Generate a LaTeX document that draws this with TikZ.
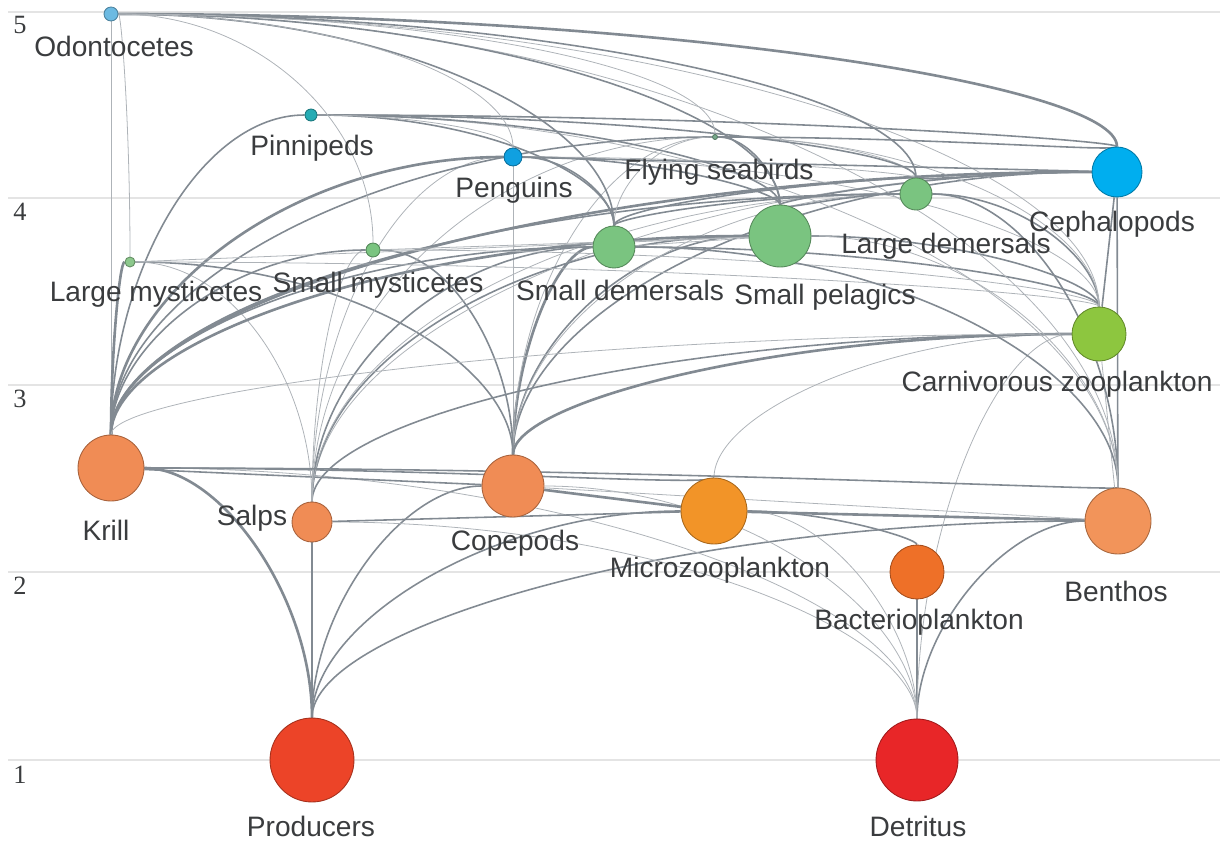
\documentclass[tikz,border=0pt]{standalone}
\usepackage{fontspec}
\setmainfont{Liberation Sans}
\newfontfamily\axisfont{Liberation Serif}
\usetikzlibrary{calc,backgrounds}

\definecolor{txtgray}{RGB}{58,60,62}
\definecolor{gridgray}{RGB}{228,228,228}
\definecolor{linkgray}{RGB}{130,138,146}
\definecolor{odoc}{RGB}{108,186,226}
\definecolor{pinnc}{RGB}{38,172,180}
\definecolor{pengc}{RGB}{16,160,224}
\definecolor{flyc}{RGB}{120,170,140}
\definecolor{cephc}{RGB}{0,174,239}
\definecolor{fishc}{RGB}{122,196,128}
\definecolor{lmysc}{RGB}{140,200,140}
\definecolor{czooc}{RGB}{141,198,63}
\definecolor{krillc}{RGB}{240,140,85}
\definecolor{microc}{RGB}{242,148,40}
\definecolor{bactc}{RGB}{238,112,40}
\definecolor{benthc}{RGB}{242,148,90}
\definecolor{prodc}{RGB}{236,68,40}
\definecolor{detrc}{RGB}{232,38,40}

% quarter ellipse from the lower node (#2) to the upper node (#3)
\newcommand{\web}[3][link]{%
  \draw[#1] (#2) .. controls ($(#2)!0.552!(#2|-#3)$) and ($(#3)!0.552!(#2|-#3)$) .. (#3);}

\begin{document}
\begin{tikzpicture}[
    x=0.02cm, y=-0.02cm,
    sp/.style={circle, draw=#1!70!black, fill=#1, line width=0.5pt, inner sep=0pt},
    rad/.style={minimum size=#1*0.04cm},
    lbl/.style={text=txtgray, font=\fontsize{16}{18}\selectfont, inner sep=0pt},
    axis/.style={text=txtgray, font=\axisfont\fontsize{15}{18}\selectfont, inner sep=0pt},
    grid line/.style={draw=gridgray, line width=0.04cm},
    thin link/.style={draw=linkgray!65, line width=0.45pt},
    link/.style={draw=linkgray, line width=0.9pt},
    thick link/.style={draw=linkgray, line width=1.5pt}
  ]
  \useasboundingbox (0,0) rectangle (1220,841);

  \node (odo) at (111,14) [sp=odoc,rad=7]{};
  \node (pinn) at (311,115) [sp=pinnc,rad=6]{};
  \node (peng) at (513,157) [sp=pengc,rad=9]{};
  \node (fly) at (715,137) [sp=flyc,rad=2.5]{};
  \node (ceph) at (1117,172) [sp=cephc,rad=25]{};
  \node (ldem) at (916,194) [sp=fishc,rad=16]{};
  \node (sdem) at (614,247) [sp=fishc,rad=21]{};
  \node (spel) at (780,236) [sp=fishc,rad=31]{};
  \node (smys) at (373,250) [sp=fishc,rad=7]{};
  \node (lmys) at (130,262) [sp=lmysc,rad=5]{};
  \node (czoo) at (1099,334) [sp=czooc,rad=27]{};
  \node (krill) at (111,468) [sp=krillc,rad=33]{};
  \node (salps) at (312,522) [sp=krillc,rad=20]{};
  \node (cope) at (513,486) [sp=krillc,rad=31]{};
  \node (micro) at (714,511) [sp=microc,rad=33]{};
  \node (bact) at (917,572) [sp=bactc,rad=27]{};
  \node (benth) at (1118,521) [sp=benthc,rad=33]{};
  \node (prod) at (312,760) [sp=prodc,rad=42]{};
  \node (detr) at (917,760) [sp=detrc,rad=41]{};

  \node (odotxt) at (114,46) [lbl]{Odontocetes};
  \node (pinntxt) at (312,148) [lbl]{Pinnipeds};
  \node (pengtxt) at (514,190) [lbl]{Penguins};
  \node (flytxt) at (719,172) [lbl]{Flying seabirds};
  \node (cephtxt) at (1112,224) [lbl]{Cephalopods};
  \node (ldemtxt) at (946,246) [lbl]{Large demersals};
  \node (sdemtxt) at (620,290) [lbl]{Small demersals};
  \node (speltxt) at (825,297) [lbl]{Small pelagics};
  \node (smystxt) at (378,285) [lbl]{Small mysticetes};
  \node (lmystxt) at (156,294) [lbl]{Large mysticetes};
  \node (czootxt) at (1057,384) [lbl]{Carnivorous zooplankton};
  \node (krilltxt) at (106,530) [lbl]{Krill};
  \node (salpstxt) at (252,518) [lbl]{Salps};
  \node (copetxt) at (515,543) [lbl]{Copepods};
  \node (microtxt) at (720,570) [lbl]{Microzooplankton};
  \node (bacttxt) at (919,622) [lbl]{Bacterioplankton};
  \node (benthtxt) at (1116,591) [lbl]{Benthos};
  \node (prodtxt) at (311,826) [lbl]{Producers};
  \node (detrtxt) at (918,826) [lbl]{Detritus};

  \node (lv5) at (20,25) [axis]{5};
  \node (lv4) at (20,212) [axis]{4};
  \node (lv3) at (20,399) [axis]{3};
  \node (lv2) at (20,586) [axis]{2};
  \node (lv1) at (20,775) [axis]{1};

  \begin{scope}[on background layer]
    \foreach \y in {12,198,385,572,760}
      \draw[grid line] (8,\y) -- (1220,\y);

    \web[thick link]{prod}{krill}
    \draw[thick link] (prod) -- (salps);
    \web{prod}{cope}
    \web{prod}{micro}
    \web{prod}{benth}

    \draw[thick link] (detr) -- (bact);
    \web{detr}{benth}
    \web[thin link]{detr}{micro}
    \web[thin link]{detr}{cope}
    \web[thin link]{detr}{salps}
    \web[thin link]{detr}{krill}
    \web[thin link]{detr}{czoo}

    \web{bact}{micro}

    \draw[thick link] (micro) -- (cope);
    \draw[link] (salps) -- (micro);
    \draw[thick link] (micro) -- (benth);
    \web{micro}{krill}
    \web[thin link]{micro}{czoo}

    \draw[link] (krill) -- (cope);
    \draw[thin link] (cope) -- (benth);
    \draw[thin link] (cope) -- (peng);
    \web[thick link]{cope}{czoo}
    \web{cope}{ceph}
    \web{cope}{spel}
    \web[thick link]{cope}{sdem}
    \web[thin link]{cope}{ldem}
    \web[thin link]{cope}{fly}
    \web{cope}{smys}
    \web{cope}{lmys}

    \web{salps}{czoo}
    \web[thin link]{salps}{ceph}
    \web{salps}{spel}
    \web{salps}{sdem}
    \web[thin link]{salps}{ldem}
    \web[thin link]{salps}{lmys}
    \web[thin link]{salps}{smys}
    \web[thin link]{salps}{fly}
    \web[thin link]{salps}{peng}

    \draw[thin link] (krill) -- (odo);
    \web[thick link]{krill}{lmys}
    \web{krill}{smys}
    \web{krill}{pinn}
    \web[thick link]{krill}{peng}
    \web{krill}{fly}
    \web{krill}{sdem}
    \web[thick link]{krill}{spel}
    \web{krill}{ldem}
    \web[thick link]{krill}{ceph}
    \web[thin link]{krill}{czoo}
    \web{benth}{krill}

    \draw[link] (czoo) -- (ceph);
    \web{czoo}{spel}
    \web{czoo}{sdem}
    \web{czoo}{ldem}
    \web[thin link]{czoo}{peng}
    \web[thin link]{czoo}{fly}
    \web[thin link]{czoo}{smys}
    \web[thin link]{czoo}{lmys}
    \web[thin link]{czoo}{odo}

    \draw[link] (benth) -- (ceph);
    \draw[thin link] (benth) -- (czoo);
    \web{benth}{ldem}
    \web{benth}{sdem}
    \web[thin link]{benth}{spel}
    \web[thin link]{benth}{pinn}
    \web[thin link]{benth}{odo}

    \web{spel}{ceph}
    \web{spel}{ldem}
    \web{spel}{peng}
    \web{spel}{fly}
    \web{spel}{pinn}
    \web{spel}{odo}
    \draw[thin link] (spel) -- (sdem);
    \draw[thin link] (smys) -- (spel);
    \draw[thin link] (lmys) -- (spel);

    \web{sdem}{ceph}
    \web{sdem}{ldem}
    \web{sdem}{peng}
    \web[thin link]{sdem}{fly}
    \web{sdem}{pinn}
    \web{sdem}{odo}

    \web{ldem}{ceph}
    \web[thin link]{ldem}{fly}
    \web[thin link]{ldem}{peng}
    \web{ldem}{pinn}
    \web{ldem}{odo}

    \draw[link] (ceph) -- (peng);
    \web{ceph}{fly}
    \web{ceph}{pinn}
    \web[thick link]{ceph}{odo}

    \web[thin link]{smys}{odo}
    \web[thin link]{lmys}{odo}
    \web[thin link]{peng}{pinn}
    \web[thin link]{peng}{odo}
    \web[thin link]{fly}{odo}
  \end{scope}
\end{tikzpicture}
\end{document}
